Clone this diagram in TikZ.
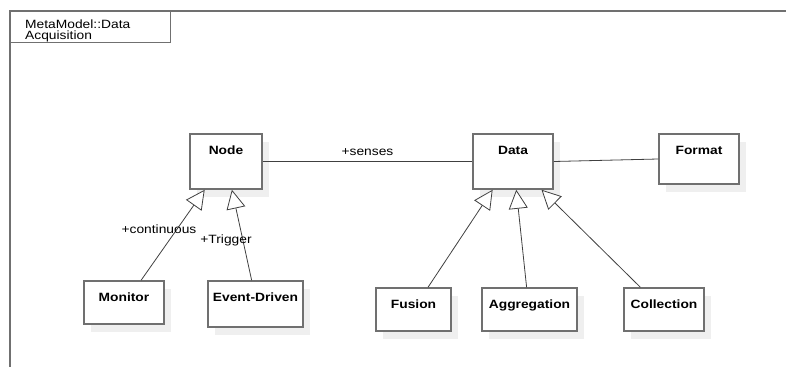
\documentclass[tikz,border=0pt]{standalone}
\usepackage{fontspec}
\setmainfont{Liberation Sans}[FakeStretch=1.15]
\usetikzlibrary{arrows.meta,shadows,calc}
\definecolor{edge}{HTML}{707070}
\definecolor{wire}{HTML}{404040}
\definecolor{shade}{HTML}{EFEFEF}
\begin{document}
\begin{tikzpicture}[x=1pt,y=-1pt,
  every node/.style={font=\fontsize{12}{11}\selectfont},
  umlbox/.style={draw=edge, line width=1.5pt, fill=white, inner sep=0pt,
    drop shadow={shadow xshift=7pt, shadow yshift=-8pt, fill=shade, opacity=1}},
  conn/.style={draw=wire, line width=0.8pt},
  gen/.style={conn, -{Triangle[open, length=19pt, width=19pt, fill=white, line width=0.8pt]}},
  boxlabel/.style={anchor=north, yshift=-9pt, font=\fontsize{12}{12}\selectfont\bfseries}
]
\useasboundingbox (0,0) rectangle (786,367);
% frame
\coordinate (ftl) at (10,11);
\coordinate (ftr) at (786,11);
\coordinate (fbl) at (10,367);
\draw[edge, line width=1.2pt] (ftr) -- (ftl) -- (fbl);
\node[draw=edge, line width=1.2pt, minimum width=160pt, minimum height=31pt, anchor=north west, inner sep=0pt] (tab) at (10,11) {};
\node[anchor=north west, align=left, inner sep=0pt] (title) at (25,20) {MetaModel::Data\\Acquisition};
% boxes
\node[umlbox, minimum width=72pt, minimum height=55pt, label={[boxlabel]north:Node}] (node) at (226,161.5) {};
\node[umlbox, minimum width=80pt, minimum height=55pt, label={[boxlabel]north:Data}] (data) at (513,161.5) {};
\node[umlbox, minimum width=80pt, minimum height=50pt, label={[boxlabel]north:Format}] (format) at (699,159) {};
\node[umlbox, minimum width=80pt, minimum height=43pt, label={[boxlabel]north:Monitor}] (monitor) at (124,302.5) {};
\node[umlbox, minimum width=95pt, minimum height=46pt, label={[boxlabel]north:Event-Driven}] (event) at (255.5,304) {};
\node[umlbox, minimum width=75pt, minimum height=43pt, label={[boxlabel]north:Fusion}] (fusion) at (413.5,309.5) {};
\node[umlbox, minimum width=95pt, minimum height=43pt, label={[boxlabel]north:Aggregation}] (aggr) at (529.5,309.5) {};
\node[umlbox, minimum width=80pt, minimum height=43pt, label={[boxlabel]north:Collection}] (coll) at (664,309.5) {};
% associations
\draw[conn] (node) -- node[above, yshift=2pt] {+senses} (data);
\draw[conn] (data.east) -- (format.west);
% generalizations
\draw[gen] ($(monitor.north west)!0.71!(monitor.north east)$) -- ($(node.south west)!0.21!(node.south east)$);
\draw[gen] ($(event.north west)!0.46!(event.north east)$) -- ($(node.south west)!0.58!(node.south east)$);
\draw[gen] ($(fusion.north west)!0.69!(fusion.north east)$) -- ($(data.south west)!0.25!(data.south east)$);
\draw[gen] ($(aggr.north west)!0.47!(aggr.north east)$) -- ($(data.south west)!0.54!(data.south east)$);
\draw[gen] ($(coll.north west)!0.21!(coll.north east)$) -- ($(data.south west)!0.85!(data.south east)$);
% role labels
\node (lcont) at (159,229) {+continuous};
\node (ltrig) at (226,240) {+Trigger};
\end{tikzpicture}
\end{document}
